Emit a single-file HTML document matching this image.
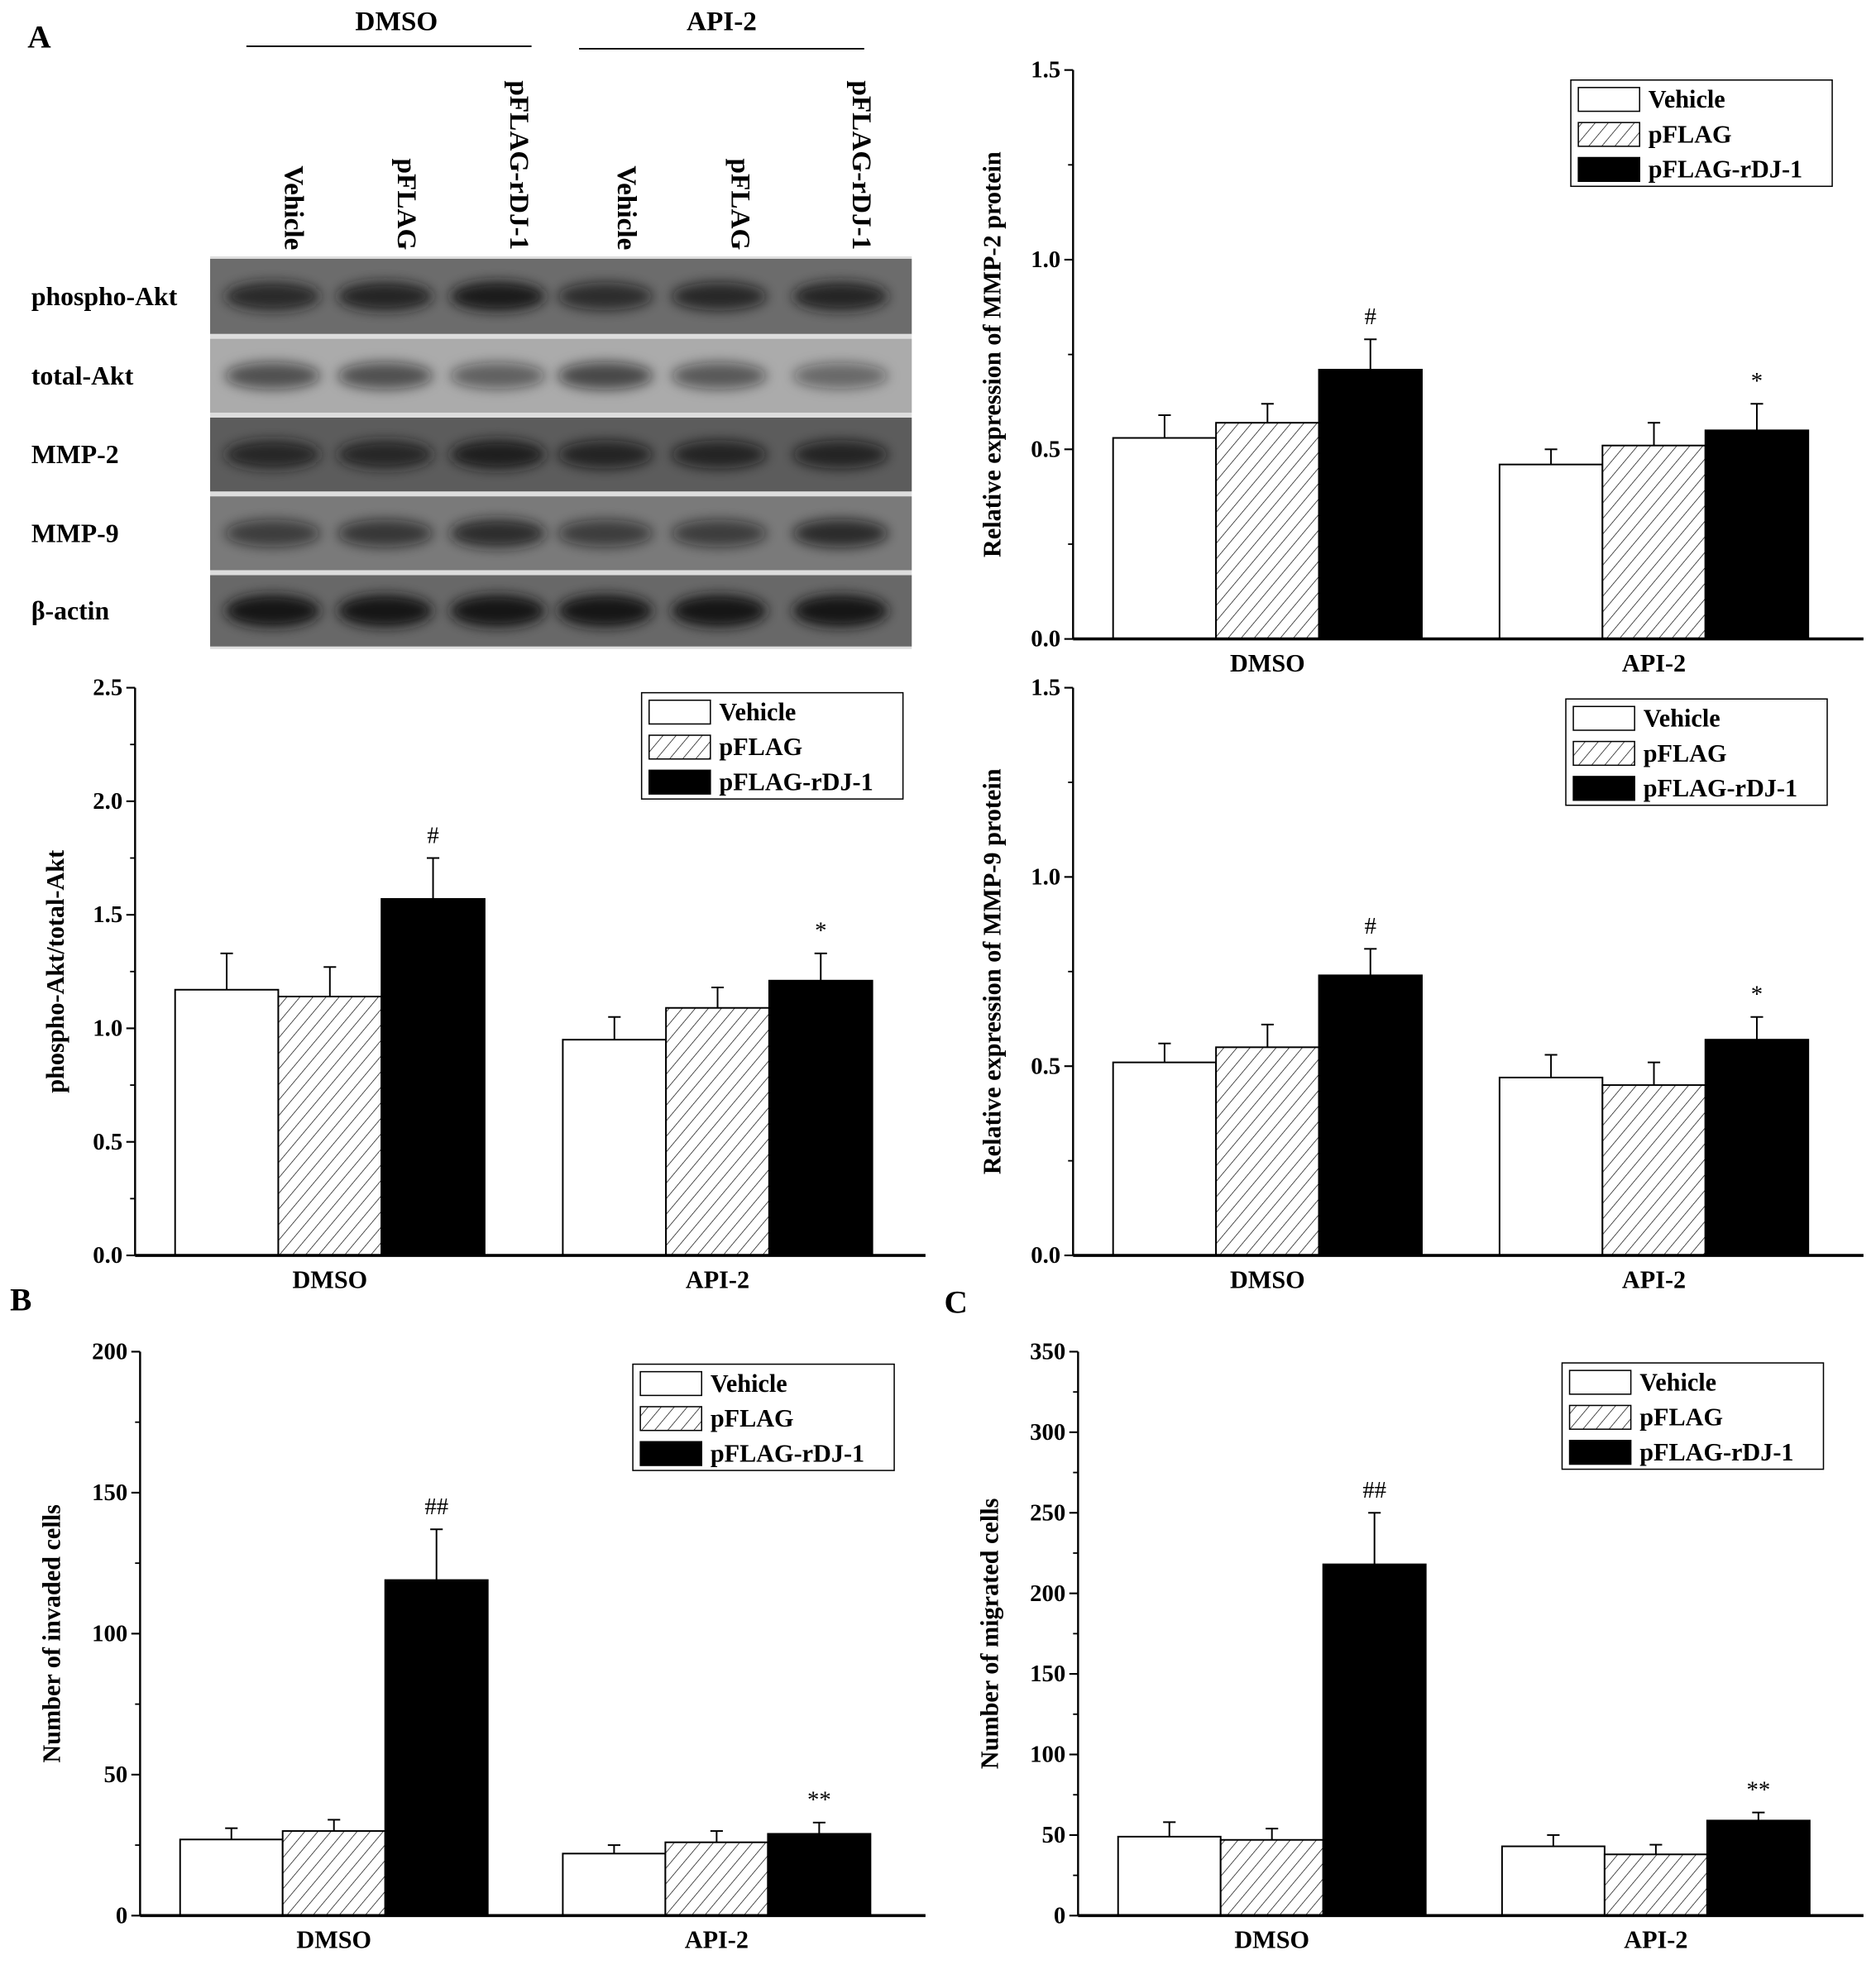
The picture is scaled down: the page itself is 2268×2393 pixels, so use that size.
<!DOCTYPE html>
<html><head><meta charset="utf-8"><style>
html,body{margin:0;padding:0;background:#fff}
svg{display:block}
text{font-family:"Liberation Serif",serif;font-weight:bold;fill:#000}
</style></head><body>
<svg id="fig" xmlns="http://www.w3.org/2000/svg" width="2268" height="2393" viewBox="0 0 1500 1582.7">
<defs>
<pattern id="hatch" patternUnits="userSpaceOnUse" width="8" height="8" patternTransform="rotate(40)">
<rect width="8" height="8" fill="#fff"/><line x1="0" y1="0" x2="0" y2="8" stroke="#000" stroke-width="0.9"/>
</pattern>
<filter id="blur" x="-20%" y="-50%" width="140%" height="200%"><feGaussianBlur stdDeviation="5"/></filter>
</defs>
<g id="blot">
<text x="22" y="38" font-size="26">A</text>
<text x="317" y="24" font-size="22" text-anchor="middle">DMSO</text>
<line x1="197" y1="37" x2="425" y2="37" stroke="#000" stroke-width="1.2"/>
<text x="577" y="24" font-size="22" text-anchor="middle">API-2</text>
<line x1="463" y1="39" x2="691" y2="39" stroke="#000" stroke-width="1.2"/>
</g>
<g id="charts"></g>
</svg>
<script>
const NS="http://www.w3.org/2000/svg";
const fig=document.getElementById('fig');
const blot=document.getElementById('blot');
const chartsG=document.getElementById('charts');
function mk(tag,attrs,parent){const e=document.createElementNS(NS,tag);for(const k in attrs)e.setAttribute(k,attrs[k]);parent.appendChild(e);return e;}

// ---- Western blot ----
const laneNames=["Vehicle","pFLAG","pFLAG-rDJ-1","Vehicle","pFLAG","pFLAG-rDJ-1"];
const laneX=[218,308,398,484,575,672];
const rowNames=["phospho-Akt","total-Akt","MMP-2","MMP-9","β-actin"];
const rowY=[207,271,334,397,460];
const rowH=[60,59,59,59,57];
const rowBg=["#6c6c6c","#ababab","#5c5c5c","#7a7a7a","#686868"];
const bandInt=[[0.8,0.85,0.95,0.7,0.75,0.85],[0.6,0.6,0.5,0.65,0.55,0.45],[0.8,0.8,0.9,0.75,0.75,0.75],[0.6,0.65,0.8,0.6,0.6,0.75],[1,1,1,1,1,1]];
mk('rect',{x:168,y:205,width:561,height:314,fill:'#ddd'},blot);
laneNames.forEach((n,i)=>{
  const t=mk('text',{x:0,y:0,'font-size':22,'text-anchor':'end',transform:`translate(${laneX[i]+10},200) rotate(90)`},blot);
  
  
  t.textContent=n;
});
rowNames.forEach((n,r)=>{
  const g=mk('g',{},blot);
  
  
  mk('rect',{x:168,y:rowY[r],width:561,height:rowH[r],fill:rowBg[r]},g);
  laneX.forEach((x,i)=>{
    const a=bandInt[r][i];
    mk('ellipse',{cx:x,cy:rowY[r]+rowH[r]/2,rx:38,ry:r==4?13:9+a*3,fill:'#151515','fill-opacity':a,filter:'url(#blur)'},g);
  });
  const t=mk('text',{x:25,y:rowY[r]+rowH[r]/2+7,'font-size':21},blot);
  
  
  t.textContent=n;
});

// ---- chart data ----
const categories=["DMSO","API-2"];
const seriesNames=["Vehicle","pFLAG","pFLAG-rDJ-1"];
const mmp2Values=[[0.53,0.57,0.71],[0.46,0.51,0.55]];
const mmp2Errors=[[0.59,0.62,0.79],[0.50,0.57,0.62]];
const mmp2Marks=[[null,null,"#"],[null,null,"*"]];
const mmp2Ticks=["0.0","0.5","1.0","1.5"];
const aktValues=[[1.17,1.14,1.57],[0.95,1.09,1.21]];
const aktErrors=[[1.33,1.27,1.75],[1.05,1.18,1.33]];
const aktMarks=[[null,null,"#"],[null,null,"*"]];
const aktTicks=["0.0","0.5","1.0","1.5","2.0","2.5"];
const mmp9Values=[[0.51,0.55,0.74],[0.47,0.45,0.57]];
const mmp9Errors=[[0.56,0.61,0.81],[0.53,0.51,0.63]];
const mmp9Marks=[[null,null,"#"],[null,null,"*"]];
const mmp9Ticks=["0.0","0.5","1.0","1.5"];
const invValues=[[27,30,119],[22,26,29]];
const invErrors=[[31,34,137],[25,30,33]];
const invMarks=[[null,null,"##"],[null,null,"**"]];
const invTicks=["0","50","100","150","200"];
const migValues=[[49,47,218],[43,38,59]];
const migErrors=[[58,54,250],[50,44,64]];
const migMarks=[[null,null,"##"],[null,null,"**"]];
const migTicks=["0","50","100","150","200","250","300","350"];

const fills=['#fff','url(#hatch)','#000'];

function chart(o){
  const g=mk('g',{},chartsG);
  
  
  const tmax=parseFloat(o.ticks[o.ticks.length-1]);
  const y=v=>o.y0-(v/tmax)*(o.y0-o.y1);
  const bw=o.bw;
  categories.forEach((c,ci)=>{
    o.values[ci].forEach((v,si)=>{
      const x=o.gx[ci]+si*bw;
      const e=o.errors[ci][si];
      mk('line',{x1:x+bw/2,y1:y(v),x2:x+bw/2,y2:y(e),stroke:'#000','stroke-width':1.3},g);
      mk('line',{x1:x+bw/2-5,y1:y(e),x2:x+bw/2+5,y2:y(e),stroke:'#000','stroke-width':1.3},g);
      const b=mk('rect',{x:x,y:y(v),width:bw,height:o.y0-y(v),fill:fills[si],stroke:'#000','stroke-width':1.3},g);
      
      
      const m=o.marks[ci][si];
      if(m){const t=mk('text',{x:x+bw/2,y:y(e)-12,'font-size':19,'text-anchor':'middle',style:'font-weight:normal'},g);
        
        
        t.textContent=m;}
    });
    const t=mk('text',{x:o.gx[ci]+bw*1.5,y:o.y0+26,'font-size':20,'text-anchor':'middle'},g);
    
    
    t.textContent=c;
  });
  mk('line',{x1:o.ax,y1:o.y1,x2:o.ax,y2:o.y0,stroke:'#000','stroke-width':1.6},g);
  mk('line',{x1:o.ax,y1:o.y0,x2:o.xend,y2:o.y0,stroke:'#000','stroke-width':2.4},g);
  o.ticks.forEach((tk,i)=>{
    const v=parseFloat(tk);const yy=y(v);
    mk('line',{x1:o.ax-7,y1:yy,x2:o.ax,y2:yy,stroke:'#000','stroke-width':1.4},g);
    const t=mk('text',{x:o.ax-10,y:yy+6,'font-size':19,'text-anchor':'end'},g);
    
    
    t.textContent=tk;
    if(i<o.ticks.length-1){const step=parseFloat(o.ticks[1])-parseFloat(o.ticks[0]);
      mk('line',{x1:o.ax-4,y1:y(v+step/2),x2:o.ax,y2:y(v+step/2),stroke:'#000','stroke-width':1.2},g);}
  });
  const yl=mk('text',{x:0,y:0,'font-size':20,'text-anchor':'middle',transform:`translate(${o.ylx},${(o.y0+o.y1)/2}) rotate(-90)`},g);
  
  
  yl.textContent=o.ylabel;
  const lg=mk('g',{},g);
  
  
  mk('rect',{x:o.lx,y:o.ly,width:209,height:85,fill:'#fff',stroke:'#000','stroke-width':1},lg);
  seriesNames.forEach((s,si)=>{
    const cy=o.ly+15+si*28;
    const e=mk('g',{},lg);
    
    
    mk('rect',{x:o.lx+6,y:cy-9,width:49,height:19,fill:fills[si],stroke:'#000','stroke-width':1},e);
    const t=mk('text',{x:o.lx+62,y:cy+7,'font-size':20},e);
    t.textContent=s;
  });
}
chart({name:'mmp2-chart',values:mmp2Values,errors:mmp2Errors,marks:mmp2Marks,ticks:mmp2Ticks,ax:858,y0:511,y1:56,xend:1490,gx:[890,1199],bw:82.3,ylx:800,ylabel:'Relative expression of MMP-2 protein',lx:1256,ly:64});
chart({name:'akt-chart',values:aktValues,errors:aktErrors,marks:aktMarks,ticks:aktTicks,ax:108,y0:1004,y1:550,xend:740,gx:[140,450],bw:82.5,ylx:51,ylabel:'phospho-Akt/total-Akt',lx:513,ly:554});
chart({name:'mmp9-chart',values:mmp9Values,errors:mmp9Errors,marks:mmp9Marks,ticks:mmp9Ticks,ax:858,y0:1004,y1:550,xend:1490,gx:[890,1199],bw:82.3,ylx:800,ylabel:'Relative expression of MMP-9 protein',lx:1252,ly:559});
chart({name:'invasion-chart',values:invValues,errors:invErrors,marks:invMarks,ticks:invTicks,ax:112,y0:1532,y1:1081,xend:740,gx:[144,450],bw:82,ylx:48,ylabel:'Number of invaded cells',lx:506,ly:1091});
chart({name:'migration-chart',values:migValues,errors:migErrors,marks:migMarks,ticks:migTicks,ax:862,y0:1532,y1:1081,xend:1490,gx:[894,1201],bw:82,ylx:798,ylabel:'Number of migrated cells',lx:1249,ly:1090});
const B=mk('text',{x:8,y:1048,'font-size':26},chartsG);


B.textContent='B';
const C=mk('text',{x:755,y:1050,'font-size':26},chartsG);


C.textContent='C';
</script>
</body></html>
